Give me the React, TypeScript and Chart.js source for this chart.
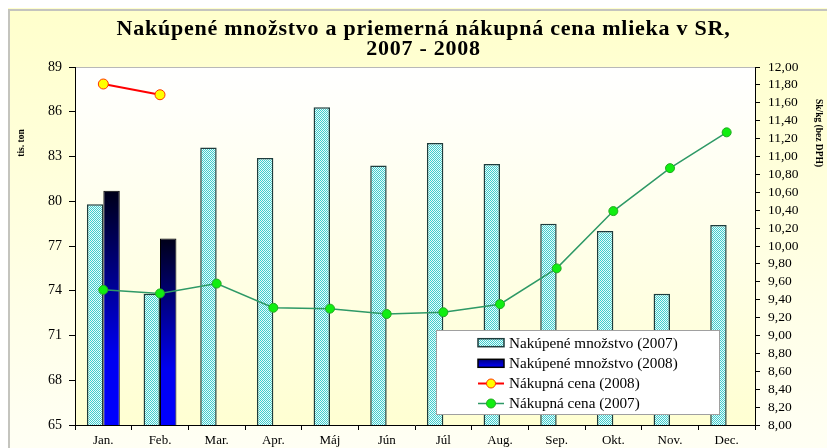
import React, { useEffect, useRef } from "react";
import { Chart, registerables } from "chart.js";

Chart.register(...registerables);

const months = ["Jan.", "Feb.", "Mar.", "Apr.", "Máj", "Jún", "Júl", "Aug.", "Sep.", "Okt.", "Nov.", "Dec."];
const qty2007 = [79.8, 73.8, 83.6, 82.9, 86.3, 82.4, 83.9, 82.5, 78.5, 78.0, 73.8, 78.4];
const qty2008 = [80.7, 77.5, null, null, null, null, null, null, null, null, null, null];
const price2008 = [11.81, 11.69, null, null, null, null, null, null, null, null, null, null];
const price2007 = [9.51, 9.47, 9.58, 9.31, 9.3, 9.24, 9.26, 9.35, 9.75, 10.39, 10.87, 11.27];

const titleLines = ["Nakúpené množstvo a priemerná nákupná cena mlieka v SR,", "2007 - 2008"];
const legendLabels = [
  "Nakúpené množstvo (2007)",
  "Nakúpené množstvo (2008)",
  "Nákupná cena (2008)",
  "Nákupná cena (2007)",
];
const leftAxisTitle = "tis. ton";
const rightAxisTitle = "Sk/kg (bez DPH)";

const FONT = "'Liberation Serif', 'Times New Roman', serif";

function makePattern(): CanvasPattern | string {
  const c = document.createElement("canvas");
  c.width = 2;
  c.height = 2;
  const g = c.getContext("2d");
  if (!g) return "#9fe3e3";
  g.fillStyle = "#e8fbfb";
  g.fillRect(0, 0, 2, 2);
  g.fillStyle = "#40cccc";
  g.fillRect(0, 0, 1, 1);
  g.fillRect(1, 1, 1, 1);
  const p = g.createPattern(c, "repeat");
  return p || "#9fe3e3";
}

export default function App() {
  const ref = useRef<HTMLCanvasElement | null>(null);

  useEffect(() => {
    const canvas = ref.current;
    if (!canvas) return;
    const pattern = makePattern();

    const blueGrad = (ctx: any) => {
      const chart = ctx.chart;
      const ca = chart.chartArea;
      const v = ctx.raw;
      if (!ca || v == null || !chart.scales.y) return "#0000ff";
      const top = chart.scales.y.getPixelForValue(v);
      const g = chart.ctx.createLinearGradient(0, top, 0, ca.bottom);
      g.addColorStop(0, "#000018");
      g.addColorStop(0.7, "#0000f0");
      g.addColorStop(1, "#0000ff");
      return g;
    };

    const bgPlugin = {
      id: "bg",
      beforeDraw(chart: any) {
        const { ctx, width, height, chartArea: ca } = chart;
        ctx.save();
        const g = ctx.createLinearGradient(0, 0, 0, height);
        g.addColorStop(0, "#ffffcc");
        g.addColorStop(1, "#fffff4");
        ctx.fillStyle = g;
        ctx.fillRect(0, 0, width, height);
        ctx.fillStyle = "#c4c4be";
        ctx.fillRect(0, 1, width, 2);
        ctx.fillRect(0, 1, 2, height);
        const pg = ctx.createLinearGradient(0, ca.top, 0, ca.bottom);
        pg.addColorStop(0, "#ffffff");
        pg.addColorStop(1, "#ffffd2");
        ctx.fillStyle = pg;
        ctx.fillRect(ca.left, ca.top, ca.right - ca.left, ca.bottom - ca.top);
        ctx.strokeStyle = "#b8b8b8";
        ctx.lineWidth = 1;
        ctx.beginPath();
        ctx.moveTo(ca.left, ca.top + 0.5);
        ctx.lineTo(ca.right, ca.top + 0.5);
        ctx.stroke();

        // title
        ctx.fillStyle = "#000";
        ctx.font = `bold 22px ${FONT}`;
        (ctx as any).letterSpacing = "0.75px";
        ctx.textAlign = "center";
        ctx.textBaseline = "middle";
        titleLines.forEach((t, i) => {
          ctx.fillText(t, width / 2 + 6, 21 + i * 20);
        });
        (ctx as any).letterSpacing = "0px";
        ctx.restore();
      },
    };

    const overlayPlugin = {
      id: "overlay",
      afterDraw(chart: any) {
        const { ctx, chartArea: ca } = chart;
        ctx.save();
        // axis titles
        ctx.fillStyle = "#000";
        ctx.font = `bold 9.5px ${FONT}`;
        ctx.textAlign = "center";
        ctx.textBaseline = "middle";
        ctx.save();
        ctx.translate(14, ca.top + 76);
        ctx.rotate(-Math.PI / 2);
        ctx.fillText(leftAxisTitle, 0, 0);
        ctx.restore();
        ctx.save();
        ctx.translate(ca.right + 63, ca.top + 66);
        ctx.rotate(Math.PI / 2);
        ctx.fillText(rightAxisTitle, 0, 0);
        ctx.restore();

        // legend
        const bx = ca.right - 319;
        const by = ca.bottom - 95;
        const bw = 283;
        const bh = 84;
        ctx.fillStyle = "#ffffff";
        ctx.fillRect(bx, by, bw, bh);
        ctx.strokeStyle = "#a0a0a0";
        ctx.lineWidth = 1;
        ctx.strokeRect(bx + 0.5, by + 0.5, bw, bh);
        const rows = [12.7, 33.3, 53.5, 73.5];
        const sx = bx + 42;
        const sw = 26;
        rows.forEach((ry, i) => {
          const y = by + ry;
          if (i === 0) {
            ctx.fillStyle = pattern as any;
            ctx.fillRect(sx, y - 4, sw, 8);
            ctx.strokeStyle = "#1e3c3c";
            ctx.lineWidth = 1.5;
            ctx.strokeRect(sx, y - 4, sw, 8);
          } else if (i === 1) {
            const g = ctx.createLinearGradient(0, y - 4, 0, y + 4);
            g.addColorStop(0, "#000080");
            g.addColorStop(1, "#0000ff");
            ctx.fillStyle = g;
            ctx.fillRect(sx, y - 4, sw, 8);
            ctx.strokeStyle = "#000";
            ctx.lineWidth = 1.5;
            ctx.strokeRect(sx, y - 4, sw, 8);
          } else {
            const red = i === 2;
            ctx.strokeStyle = red ? "#ff0000" : "#2e9966";
            ctx.lineWidth = red ? 2 : 1.5;
            ctx.beginPath();
            ctx.moveTo(sx, y);
            ctx.lineTo(sx + sw, y);
            ctx.stroke();
            ctx.beginPath();
            ctx.arc(sx + sw / 2, y, 4.5, 0, Math.PI * 2);
            ctx.fillStyle = red ? "#ffff00" : "#11ee11";
            ctx.fill();
            ctx.lineWidth = 1;
            ctx.strokeStyle = red ? "#ff3300" : "#22aa22";
            ctx.stroke();
          }
          ctx.fillStyle = "#000";
          ctx.font = `15.2px ${FONT}`;
          ctx.textAlign = "left";
          ctx.textBaseline = "middle";
          ctx.fillText(legendLabels[i], bx + 73, y + 1);
        });
        ctx.restore();
      },
    };

    const chart = new Chart(canvas, {
      type: "bar",
      data: {
        labels: months,
        datasets: [
          {
            type: "line",
            label: legendLabels[2],
            data: price2008 as any,
            yAxisID: "y1",
            borderColor: "#ff0000",
            borderWidth: 2,
            pointRadius: 5,
            pointBackgroundColor: "#ffff00",
            pointBorderColor: "#ff3300",
            pointBorderWidth: 1,
            order: 0,
          },
          {
            type: "line",
            label: legendLabels[3],
            data: price2007,
            yAxisID: "y1",
            borderColor: "#2e9966",
            borderWidth: 1.5,
            pointRadius: 4.5,
            pointBackgroundColor: "#11ee11",
            pointBorderColor: "#22aa22",
            pointBorderWidth: 1,
            order: 0,
          },
          {
            type: "bar",
            label: legendLabels[0],
            data: qty2007,
            yAxisID: "y",
            backgroundColor: pattern as any,
            borderColor: "#1e3c3c",
            borderWidth: 1.5,
            categoryPercentage: 0.58,
            barPercentage: 1,
            order: 1,
          },
          {
            type: "bar",
            label: legendLabels[1],
            data: qty2008 as any,
            yAxisID: "y",
            backgroundColor: blueGrad as any,
            borderColor: "#000000",
            borderWidth: 1,
            categoryPercentage: 0.58,
            barPercentage: 1,
            order: 1,
          },
        ],
      },
      options: {
        responsive: false,
        animation: false,
        layout: { padding: { top: 59, left: 0, right: 0, bottom: 0 }, autoPadding: false } as any,
        plugins: {
          legend: { display: false },
          tooltip: { enabled: false },
          title: { display: false },
        },
        scales: {
          x: {
            offset: true,
            grid: { display: true, drawOnChartArea: false, drawTicks: true, tickLength: 5, color: "#000", offset: true },
            border: { display: true, color: "#000", width: 1 },
            ticks: { color: "#000", font: { family: FONT, size: 13 }, padding: 3, maxRotation: 0, autoSkip: false },
            afterFit: (s: any) => {
              s.height = 23;
            },
          },
          y: {
            position: "left",
            min: 65,
            max: 89,
            grid: { display: true, drawOnChartArea: false, drawTicks: true, tickLength: 6, color: "#000" },
            border: { display: true, color: "#000", width: 1 },
            ticks: { stepSize: 3, color: "#000", font: { family: FONT, size: 14 }, padding: 7, maxTicksLimit: 30, autoSkip: false },
            afterFit: (s: any) => {
              s.width = 67;
            },
          },
          y1: {
            position: "right",
            min: 8,
            max: 12,
            grid: { display: true, drawOnChartArea: false, drawTicks: true, tickLength: 5, color: "#000" },
            border: { display: true, color: "#000", width: 1 },
            ticks: {
              stepSize: 0.2,
              maxTicksLimit: 40,
              autoSkip: false,
              color: "#000",
              font: { family: FONT, size: 13.5 },
              padding: 8,
              callback: (v: any) => Number(v).toFixed(2).replace(".", ","),
            },
            afterFit: (s: any) => {
              s.width = 72;
            },
          },
        },
      } as any,
      plugins: [bgPlugin, overlayPlugin],
    });

    return () => chart.destroy();
  }, []);

  return (
    <div style={{ width: 819, height: 440 }}>
      <canvas ref={ref} width={819} height={440} style={{ display: "block" }} />
    </div>
  );
}
